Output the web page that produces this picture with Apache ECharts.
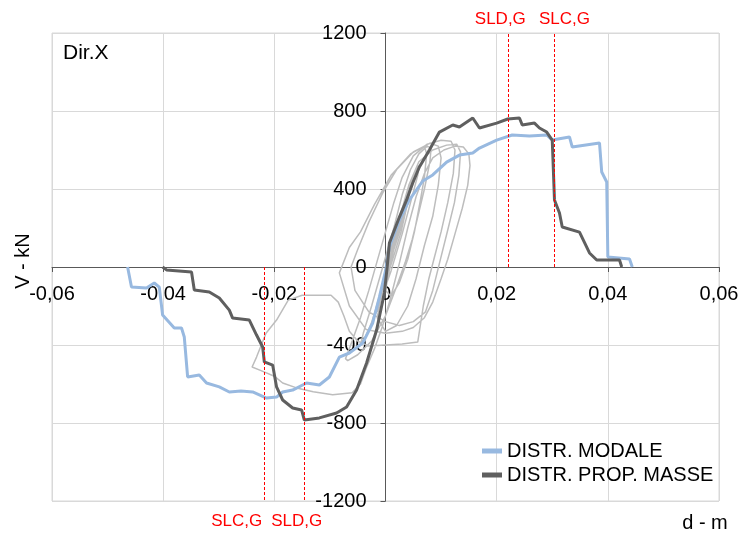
<!DOCTYPE html>
<html>
<head>
<meta charset="utf-8">
<script src="https://cdn.jsdelivr.net/npm/echarts@6/dist/echarts.min.js"></script>
<style>
  html, body { margin: 0; padding: 0; background: #fff; }
  #main { width: 741px; height: 536px; }
</style>
</head>
<body>
<div id="main"></div>
<script>
// curva "DISTR. MODALE" (d [m], V [kN])
var modale = [
  [-0.0464, 0], [-0.0457, -103], [-0.0430, -108], [-0.0416, -82], [-0.0407, -103],
  [-0.0401, -246], [-0.0380, -313], [-0.0367, -313], [-0.0362, -359], [-0.0356, -564],
  [-0.0335, -554], [-0.0322, -595], [-0.0299, -615], [-0.0281, -641], [-0.0260, -636],
  [-0.0239, -641], [-0.0214, -672], [-0.0196, -667], [-0.0185, -641], [-0.0167, -631],
  [-0.0142, -595], [-0.0119, -605], [-0.0101, -564], [-0.0083, -462], [-0.0065, -441],
  [-0.0041, -390], [-0.0023, -287], [-0.0011, -154], [0.0000, -20], [0.0007, 103],
  [0.0025, 241], [0.0043, 344], [0.0067, 441], [0.0085, 472], [0.0110, 538],
  [0.0133, 574], [0.0157, 585], [0.0169, 610], [0.0200, 651], [0.0228, 677],
  [0.0259, 672], [0.0290, 677], [0.0300, 651], [0.0331, 667], [0.0336, 615],
  [0.0385, 636], [0.0389, 487], [0.0398, 436], [0.0400, 51], [0.0439, 41], [0.0444, 0]
];

// curva "DISTR. PROP. MASSE"
var masse = [
  [-0.0401, 0], [-0.0394, -15], [-0.0349, -26], [-0.0344, -118], [-0.0317, -128],
  [-0.0299, -159], [-0.0281, -221], [-0.0275, -262], [-0.0245, -272], [-0.0232, -349],
  [-0.0221, -410], [-0.0218, -487], [-0.0203, -503], [-0.0196, -615], [-0.0185, -682],
  [-0.0167, -723], [-0.0151, -733], [-0.0146, -785], [-0.0119, -774], [-0.0088, -749],
  [-0.0070, -718], [-0.0052, -631], [-0.0034, -492], [-0.0016, -323], [-0.0002, -133],
  [0.0003, 0], [0.0007, 123], [0.0025, 256], [0.0038, 344], [0.0049, 431],
  [0.0061, 513], [0.0079, 600], [0.0097, 692], [0.0121, 728], [0.0133, 718],
  [0.0157, 764], [0.0169, 713], [0.0200, 738], [0.0220, 759], [0.0241, 764],
  [0.0246, 728], [0.0268, 738], [0.0277, 713], [0.0290, 692], [0.0300, 651],
  [0.0304, 344], [0.0313, 277], [0.0318, 205], [0.0349, 179], [0.0367, 72],
  [0.0380, 36], [0.0421, 36], [0.0425, 0]
];

// cicli di isteresi (grigio)
var cicli = [
  [0, 0], [0.0012, 120], [0.0028, 260], [0.0020, 180], [0.0005, 20], [0.0015, 130],
  [0.0032, 300], [0.0024, 200], [0.0008, 40], [0.0018, 160], [0.0036, 330], [0.0028, 230],
  [0.0010, 60], [0.0022, 190], [0.0040, 360], [0.0030, 240], [0.0012, 70], [0.0026, 210],
  [0.0043, 380], [0.0034, 260], [0.0015, 90], [0.0005, -30], [-0.0008, -150], [-0.0015, -230],
  [-0.0005, -120], [0.0010, 60], [0.0025, 230], [0.0038, 360], [0.0045, 420], [0.0040, 330],
  [0.0028, 180], [0.0012, 30], [-0.0010, -170], [-0.0025, -290], [-0.0030, -330], [-0.0018, -220],
  [0.0000, -40], [0.0020, 180], [0.0035, 330], [0.0050, 460], [0.0060, 520], [0.0058, 470],
  [0.0045, 330], [0.0030, 170], [0.0010, -20], [-0.0015, -220], [-0.0035, -350], [-0.0045, -400],
  [-0.0040, -340], [-0.0025, -200], [-0.0005, 0], [0.0015, 200], [0.0030, 370], [0.0045, 500],
  [0.0060, 580], [0.0075, 620], [0.0082, 610], [0.0080, 540], [0.0070, 400], [0.0060, 280],
  [0.0048, 140], [0.0035, 20], [0.0020, -100], [0.0000, -250], [-0.0025, -380], [-0.0050, -450],
  [-0.0068, -480], [-0.0072, -470], [-0.0060, -380], [-0.0045, -260], [-0.0030, -120], [-0.0015, 30],
  [0.0000, 180], [0.0015, 330], [0.0030, 460], [0.0050, 570], [0.0075, 630], [0.0100, 650],
  [0.0118, 645], [0.0125, 600], [0.0122, 480], [0.0112, 330], [0.0100, 180], [0.0088, 50],
  [0.0078, -60], [0.0068, -200], [0.0058, -385], [0.0030, -395], [0.0000, -400], [-0.0030, -405],
  [-0.0050, -380], [-0.0065, -330], [-0.0075, -250], [-0.0085, -180], [-0.0098, -145], [-0.0115, -145],
  [-0.0150, -145], [-0.0175, -170], [-0.0196, -272], [-0.0215, -340], [-0.0232, -462], [-0.0240, -513],
  [-0.0225, -530], [-0.0200, -560], [-0.0185, -595], [-0.0160, -620], [-0.0130, -640], [-0.0095, -655],
  [-0.0060, -645], [-0.0045, -600], [-0.0035, -520], [-0.0020, -420], [-0.0005, -300], [0.0010, -150],
  [0.0025, 20], [0.0040, 200], [0.0055, 360], [0.0070, 480], [0.0085, 560], [0.0105, 600],
  [0.0125, 620], [0.0140, 615], [0.0150, 580], [0.0152, 520], [0.0148, 420], [0.0138, 300],
  [0.0125, 170], [0.0112, 40], [0.0100, -60], [0.0085, -180], [0.0070, -260], [0.0050, -310],
  [0.0030, -330], [0.0000, -340], [-0.0035, -320], [-0.0065, -200], [-0.0083, -30], [-0.0065, 100],
  [-0.0045, 180], [-0.0020, 320], [0.0010, 470], [0.0045, 580], [0.0080, 635], [0.0095, 620],
  [0.0100, 560], [0.0095, 420], [0.0085, 260], [0.0070, 110], [0.0055, -60], [0.0040, -200],
  [0.0020, -300], [0.0000, -330], [-0.0015, -260], [-0.0005, -120], [0.0008, 30],
  [0.0025, 250], [0.0042, 420], [0.0060, 540], [0.0085, 600], [0.0110, 625], [0.0128, 630],
  [0.0135, 590], [0.0132, 470], [0.0124, 330], [0.0112, 190], [0.0098, 30], [0.0085, -120],
  [0.0072, -230], [0.0050, -280], [0.0025, -300], [0.0000, -280], [-0.0030, -230], [-0.0055, -120],
  [-0.0062, 0], [-0.0050, 90], [-0.0030, 230], [-0.0005, 380], [0.0020, 500], [0.0050, 590],
  [0.0070, 620], [0.0074, 580], [0.0070, 460], [0.0062, 330], [0.0052, 180], [0.0040, 40],
  [0.0025, -80], [0.0010, -150], [0.0000, -120], [0.0012, 60], [0.0022, 160]
];

// stati limite
var limitiX = [0.0221, 0.0304, -0.0219, -0.0147];
var limitiNome = ['SLD,G', 'SLC,G', 'SLC,G', 'SLD,G'];
var limitiFine = [1200, 1200, -1200, -1200];
var limitiDx = [-8, 10, -27, -7];   // spostamento etichette (px)

var xTicks = [-0.06, 0.06, 0.02];
var yTicks = [-1200, 1200, 400];

var chart = echarts.init(document.getElementById('main'), null, { renderer: 'canvas' });

var fontFam = 'Liberation Sans, Arial, sans-serif';

var markData = limitiX.map(function (x, i) {
  return [{ coord: [x, 0] }, { coord: [x, limitiFine[i]] }];
});

chart.setOption({
  animation: false,
  grid: {
    left: 52, right: 22, top: 33, bottom: 35,
    outerBoundsMode: 'none', containLabel: false,
    show: true, borderColor: '#d9d9d9', borderWidth: 1
  },
  legend: {
    orient: 'vertical',
    left: 477, top: 436,
    itemWidth: 20, itemHeight: 5, itemGap: 4,
    icon: 'rect',
    textStyle: { fontFamily: fontFam, fontSize: 20, color: '#000' },
    data: ['DISTR. MODALE', 'DISTR. PROP. MASSE']
  },
  xAxis: {
    type: 'value', position: 'bottom',
    min: xTicks[0], max: xTicks[1], interval: xTicks[2],
    axisLine: { onZero: false, lineStyle: { color: '#595959', width: 1 } },
    axisTick: { show: true, length: 5, lineStyle: { color: '#595959' } },
    splitLine: { show: true, lineStyle: { color: '#d9d9d9', width: 1 } },
    axisLabel: {
      margin: 17, color: '#000', fontFamily: fontFam, fontSize: 20,
      formatter: function (v) {
        if (Math.abs(v) < 1e-9) return '0';
        return v.toFixed(2).replace('.', ',');
      }
    }
  },
  yAxis: {
    type: 'value', position: 'left',
    min: yTicks[0], max: yTicks[1], interval: yTicks[2],
    axisLine: { onZero: false, lineStyle: { color: '#595959', width: 1 } },
    axisTick: { show: true, length: 5, lineStyle: { color: '#595959' } },
    splitLine: { show: true, lineStyle: { color: '#d9d9d9', width: 1 } },
    axisLabel: {
      margin: 19, color: '#000', fontFamily: fontFam, fontSize: 20,
      formatter: function (v) { return String(v); }
    }
  },
  series: [
    {
      name: 'cicli', type: 'line', data: cicli, showSymbol: false, symbol: 'none',
      silent: true, z: 1,
      lineStyle: { color: '#bdbdbd', width: 1.5 }
    },
    {
      name: 'DISTR. MODALE', type: 'line', data: modale, showSymbol: false, symbol: 'none',
      z: 2, color: '#98b9e0',
      lineStyle: { color: '#98b9e0', width: 3 }
    },
    {
      name: 'DISTR. PROP. MASSE', type: 'line', data: masse, showSymbol: false, symbol: 'none',
      z: 3, color: '#5f5f5f',
      lineStyle: { color: '#5f5f5f', width: 3 },
      markLine: {
        silent: true, symbol: 'none',
        label: { show: false },
        lineStyle: { color: '#ff0000', width: 1, type: [3, 2] },
        data: markData
      }
    }
  ]
});

// sposta gli assi sullo zero (assi incrociati come nell'originale)
var p0 = chart.convertToPixel({ gridIndex: 0 }, [0, 0]);
var pMin = chart.convertToPixel({ gridIndex: 0 }, [xTicks[0], yTicks[0]]);
chart.setOption({
  xAxis: { offset: p0[1] - pMin[1] },
  yAxis: { offset: pMin[0] - p0[0] }
});

// testi: etichette stati limite, nomi assi, direzione
var testi = [];
limitiX.forEach(function (x, i) {
  var p = chart.convertToPixel({ gridIndex: 0 }, [x, limitiFine[i]]);
  testi.push({
    type: 'text',
    x: p[0] + limitiDx[i],
    y: limitiFine[i] > 0 ? p[1] - 14 : p[1] + 20,
    style: {
      text: limitiNome[i], fill: '#ff0000', fontFamily: fontFam, fontSize: 17,
      align: 'center', verticalAlign: 'middle',
      textAlign: 'center', textVerticalAlign: 'middle'
    }
  });
});
testi.push({
  type: 'text', x: 23, y: 261, rotation: Math.PI / 2,
  style: {
    text: 'V - kN', fill: '#000', fontFamily: fontFam, fontSize: 20,
    align: 'center', verticalAlign: 'middle', textAlign: 'center', textVerticalAlign: 'middle'
  }
});
testi.push({
  type: 'text', x: 705, y: 523,
  style: {
    text: 'd - m', fill: '#000', fontFamily: fontFam, fontSize: 20,
    align: 'center', verticalAlign: 'middle', textAlign: 'center', textVerticalAlign: 'middle'
  }
});
testi.push({
  type: 'text', x: 63, y: 53,
  style: {
    text: 'Dir.X', fill: '#000', fontFamily: fontFam, fontSize: 21,
    align: 'left', verticalAlign: 'middle', textAlign: 'left', textVerticalAlign: 'middle'
  }
});
chart.setOption({ graphic: testi });
</script>
</body>
</html>
